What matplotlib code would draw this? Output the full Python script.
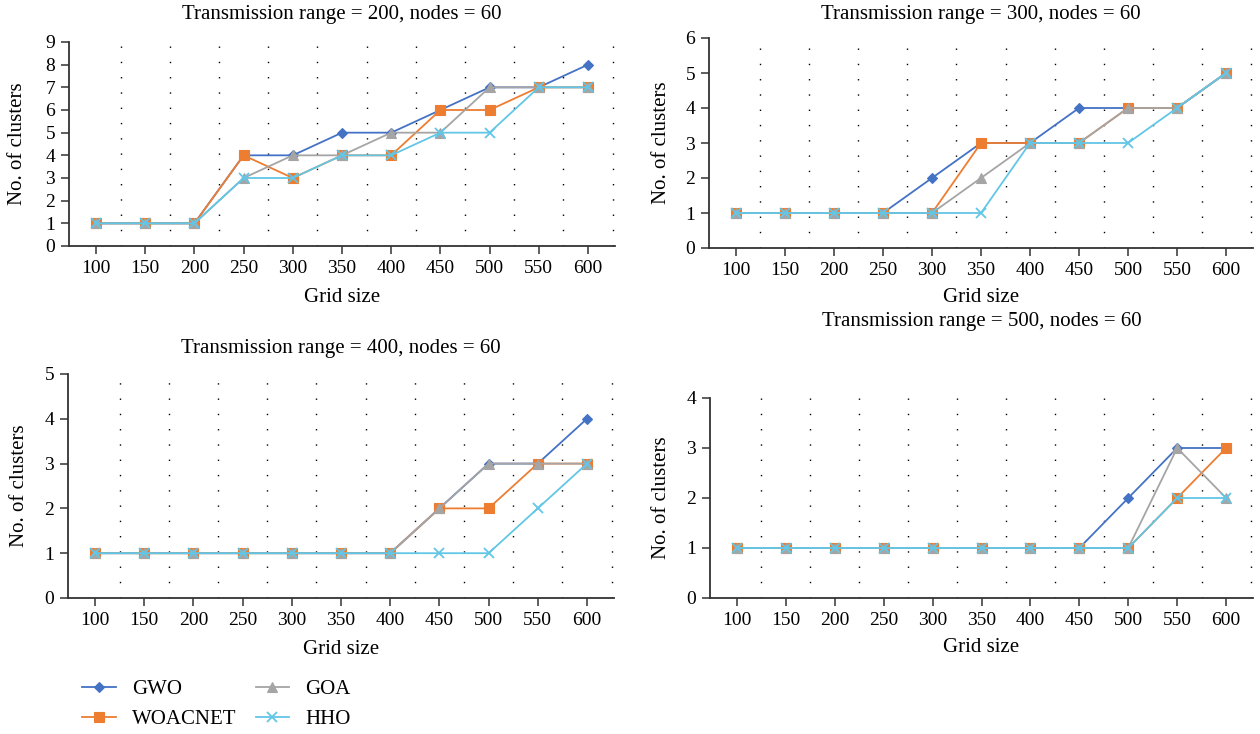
import matplotlib
matplotlib.use('Agg')
import matplotlib.pyplot as plt
import numpy as np

plt.rcParams['font.family'] = ['Liberation Serif', 'DejaVu Serif']

grid_sizes = [100, 150, 200, 250, 300, 350, 400, 450, 500, 550, 600]
series_names = ['GWO', 'WOACNET', 'GOA', 'HHO']

# transmission range = 200
tr200_gwo = [1, 1, 1, 4, 4, 5, 5, 6, 7, 7, 8]
tr200_woacnet = [1, 1, 1, 4, 3, 4, 4, 6, 6, 7, 7]
tr200_goa = [1, 1, 1, 3, 4, 4, 5, 5, 7, 7, 7]
tr200_hho = [1, 1, 1, 3, 3, 4, 4, 5, 5, 7, 7]

# transmission range = 300
tr300_gwo = [1, 1, 1, 1, 2, 3, 3, 4, 4, 4, 5]
tr300_woacnet = [1, 1, 1, 1, 1, 3, 3, 3, 4, 4, 5]
tr300_goa = [1, 1, 1, 1, 1, 2, 3, 3, 4, 4, 5]
tr300_hho = [1, 1, 1, 1, 1, 1, 3, 3, 3, 4, 5]

# transmission range = 400
tr400_gwo = [1, 1, 1, 1, 1, 1, 1, 2, 3, 3, 4]
tr400_woacnet = [1, 1, 1, 1, 1, 1, 1, 2, 2, 3, 3]
tr400_goa = [1, 1, 1, 1, 1, 1, 1, 2, 3, 3, 3]
tr400_hho = [1, 1, 1, 1, 1, 1, 1, 1, 1, 2, 3]

# transmission range = 500
tr500_gwo = [1, 1, 1, 1, 1, 1, 1, 1, 2, 3, 3]
tr500_woacnet = [1, 1, 1, 1, 1, 1, 1, 1, 1, 2, 3]
tr500_goa = [1, 1, 1, 1, 1, 1, 1, 1, 1, 3, 2]
tr500_hho = [1, 1, 1, 1, 1, 1, 1, 1, 1, 2, 2]

ranges = [200, 300, 400, 500]
ymax = [9, 6, 5, 4]
panels = [
    [tr200_gwo, tr200_woacnet, tr200_goa, tr200_hho],
    [tr300_gwo, tr300_woacnet, tr300_goa, tr300_hho],
    [tr400_gwo, tr400_woacnet, tr400_goa, tr400_hho],
    [tr500_gwo, tr500_woacnet, tr500_goa, tr500_hho],
]

COLORS = ['#4472C4', '#ED7D31', '#A5A5A5', '#62C6E6']
MARKERS = ['D', 's', '^', 'x']
MSIZE = [5.5, 7.5, 7.5, 7.5]
FS = 15

W, H = 1260, 734
fig = plt.figure(figsize=(W / 100, H / 100), dpi=100)
fig.patch.set_facecolor('white')

# axes boxes in pixels: left, top, right, bottom
boxes = [(69, 42, 615, 246), (709, 38, 1253, 248),
         (68, 374, 614, 598), (710, 398, 1253, 598)]
title_y = [15, 15, 349, 322]
xlabel_y = [298, 298, 650, 648]
ylabel_x = [18, 661, 20, 662]

x = np.arange(len(grid_sizes))
handles = []
for i, (l, t, r, b) in enumerate(boxes):
    ax = fig.add_axes([l / W, 1 - b / H, (r - l) / W, (b - t) / H])
    for k, vals in enumerate(panels[i]):
        h, = ax.plot(x, vals, color=COLORS[k], marker=MARKERS[k], ms=MSIZE[k],
                     mew=1.3 if MARKERS[k] == 'x' else 0.8, lw=1.3,
                     label=series_names[k])
        if i == 0:
            handles.append(h)
    ax.set_xlim(-0.55, len(grid_sizes) - 0.45)
    ax.set_ylim(0, ymax[i])
    ax.set_yticks(range(ymax[i] + 1))
    ax.set_xticks(x)
    ax.set_xticklabels([str(g) for g in grid_sizes])
    ax.set_xticks(x + 0.5, minor=True)
    ax.grid(axis='x', which='minor', color='black', lw=1.0, linestyle=(0, (1, 10)))
    ax.tick_params(axis='x', which='minor', length=0)
    ax.tick_params(axis='both', which='major', direction='out', length=6,
                   width=1.1, color='#333333', labelsize=14, pad=4)
    for s in ['top', 'right']:
        ax.spines[s].set_visible(False)
    for s in ['left', 'bottom']:
        ax.spines[s].set_color('#333333')
        ax.spines[s].set_linewidth(1.3)
    cx = (l + r) / 2
    fig.text(cx / W, 1 - title_y[i] / H,
             'Transmission range = %d, nodes = 60' % ranges[i],
             ha='center', va='center', fontsize=FS)
    fig.text(cx / W, 1 - xlabel_y[i] / H, 'Grid size',
             ha='center', va='center', fontsize=FS)
    fig.text(ylabel_x[i] / W, 1 - ((t + b) / 2) / H, 'No. of clusters',
             ha='center', va='center', rotation=90, fontsize=FS)

fig.legend(handles=handles, loc='upper left', ncol=2,
           bbox_to_anchor=(74 / W, 1 - 671 / H), frameon=False,
           fontsize=FS, handlelength=1.6, columnspacing=0.9,
           labelspacing=0.5, handletextpad=0.8, borderaxespad=0.0)

plt.savefig('out.png', dpi=100, facecolor='white')
